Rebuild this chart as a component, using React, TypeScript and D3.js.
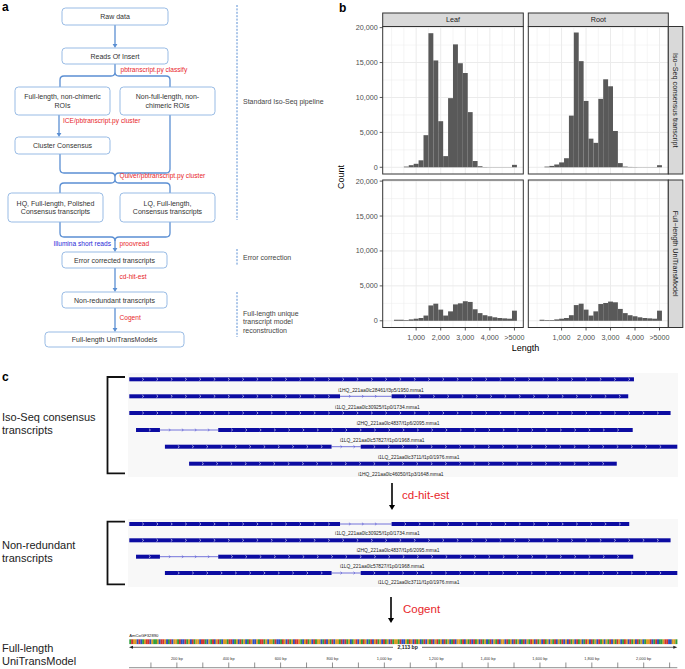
import React from "react";
import * as d3 from "d3";

const FONT = "'Liberation Sans', Arial, Helvetica, sans-serif";

// ---------------- Panel b data ----------------
const binCenters = [200, 400, 600, 800, 1000, 1200, 1400, 1600, 1800, 2000, 2200, 2400, 2600, 2800, 3000, 3200, 3400, 3600, 3800, 4000, 4200, 4400, 4600, 4800, 5000];
const tissues = ["Leaf", "Root"];
const rowTypes = ["Iso\u2212Seq consensus transcript", "Full\u2212length UniTransModel"];
const leafIso = [0, 0, 100, 300, 500, 1000, 4600, 19200, 15300, 6600, 1600, 9900, 17600, 14900, 13500, 7900, 900, 150, 40, 30, 30, 30, 30, 30, 350];
const rootIso = [0, 100, 200, 400, 700, 1300, 7400, 19300, 15200, 9500, 4100, 3500, 9800, 12600, 11600, 5200, 600, 100, 50, 40, 30, 30, 30, 30, 300];
const leafUni = [150, 150, 100, 200, 300, 400, 750, 2200, 2450, 1600, 750, 1350, 2350, 2500, 2800, 2700, 1650, 1100, 800, 650, 500, 400, 350, 300, 1450];
const rootUni = [150, 100, 100, 200, 300, 400, 800, 2250, 2450, 1600, 750, 1350, 2400, 2550, 2750, 2650, 1700, 1100, 800, 650, 500, 400, 350, 300, 1450];
const xTickValues = [1000, 2000, 3000, 4000, 5000];
const xTickLabels = ["1,000", "2,000", "3,000", "4,000", ">5000"];
const xMinorValues = [0, 500, 1500, 2500, 3500, 4500];
const yTickValues = [0, 5000, 10000, 15000, 20000];
const yTickLabels = ["0", "5,000", "10,000", "15,000", "20,000"];
const yMinorValues = [2500, 7500, 12500, 17500];
const BIN_WIDTH = 200;

// ---------------- Panel a data ----------------
const flowBoxes = [
  { x: 62, y: 8, w: 106, h: 17, lines: ["Raw data"] },
  { x: 62, y: 48, w: 106, h: 16, lines: ["Reads Of Insert"] },
  { x: 15, y: 87, w: 95, h: 28, lines: ["Full-length, non-chimeric", "ROIs"] },
  { x: 120, y: 87, w: 95, h: 28, lines: ["Non-full-length, non-", "chimeric ROIs"] },
  { x: 15, y: 137, w: 95, h: 17, lines: ["Cluster Consensus"] },
  { x: 8, y: 193, w: 95, h: 29, lines: ["HQ, Full-length, Polished", "Consensus transcripts"] },
  { x: 120, y: 193, w: 95, h: 29, lines: ["LQ, Full-length,", "Consensus transcripts"] },
  { x: 62, y: 252, w: 105, h: 16, lines: ["Error corrected transcripts"] },
  { x: 62, y: 292, w: 105, h: 16, lines: ["Non-redundant transcripts"] },
  { x: 45, y: 332, w: 139, h: 15, lines: ["Full-length UniTransModels"] },
];
const flowTools = [
  { x: 120.5, y: 69.5, text: "pbtranscript.py classify", color: "#e8262b", anchor: "start" },
  { x: 63, y: 121, text: "ICE/pbtranscript.py cluster", color: "#e8262b", anchor: "start" },
  { x: 119.5, y: 175.5, text: "Quiver/pbtranscript.py cluster", color: "#e8262b", anchor: "start" },
  { x: 111, y: 244, text: "Illumina short reads", color: "#2a2ad8", anchor: "end" },
  { x: 119.5, y: 244, text: "proovread", color: "#e8262b", anchor: "start" },
  { x: 119.5, y: 277, text: "cd-hit-est", color: "#e8262b", anchor: "start" },
  { x: 119.5, y: 318, text: "Cogent", color: "#e8262b", anchor: "start" },
];
const stages = [
  { y0: 5, y1: 220, lines: ["Standard Iso-Seq pipeline"], ty: 101 },
  { y0: 249, y1: 265, lines: ["Error correction"], ty: 257 },
  { y0: 292, y1: 337, lines: ["Full-length unique", "transcript model", "reconstruction"], ty: 313 },
];

// ---------------- Panel c data ----------------
const isoSeqTranscripts = [
  { exons: [[0, 2026]], label: "i1HQ_221aa0lc28461/f3p5/1950.mma1", labelAt: 839 },
  { exons: [[0, 846], [1053, 2003]], label: "i1LQ_221aa0lc30925/f1p0/1734.mma1", labelAt: 826 },
  { exons: [[0, 2173]], label: "i2HQ_221aa0lc4837/f1p6/2095.mma1", labelAt: 913 },
  { exons: [[27, 123], [357, 2021]], label: "i1LQ_221aa0lc57827/f1p0/1968.mma1", labelAt: 846 },
  { exons: [[143, 812], [929, 2200]], label: "i1LQ_221aa0lc3711/f1p0/1976.mma1", labelAt: 998 },
  { exons: [[240, 1957]], label: "i1HQ_221aa0lc46050/f1p3/1648.mma1", labelAt: 919 },
];
const nonRedundantTranscripts = [
  { exons: [[0, 846], [1053, 2007]], label: "i1LQ_221aa0lc30925/f1p0/1734.mma1", labelAt: 826 },
  { exons: [[0, 2173]], label: "i2HQ_221aa0lc4837/f1p6/2095.mma1", labelAt: 913 },
  { exons: [[27, 123], [357, 2023]], label: "i1LQ_221aa0lc57827/f1p0/1968.mma1", labelAt: 846 },
  { exons: [[143, 812], [929, 2200]], label: "i1LQ_221aa0lc3711/f1p0/1976.mma1", labelAt: 998 },
];
const modelName = "AmCoGF32890";
const modelLength = 2113;
const rulerTicks = [100, 200, 300, 400, 500, 600, 700, 800, 900, 1000, 1100, 1200, 1300, 1400, 1500, 1600, 1700, 1800, 1900, 2000, 2100];
const rulerLabels = [200, 400, 600, 800, 1000, 1200, 1400, 1600, 1800, 2000];
const modelSequence =
  "ATGGCTCAGTTCGAAGCTTGCATCGGATCCTAGCTAGGCTTACGATCGTACGGATTCAGCTAGCATGCCGATTAGCGGATCCATGCTAGCTTGACGTAGCTAGGCATCGATCGGATCTAGCAGTCGATGCATCGTAGCTAGCTAGGATCCGATGCTAGCATCGATCGTAGCTAGCATCGGATCGATCTAGCTAGCATCGATCGGCTAGCTAGCATCGATGCTAGCTAGCGATCGATCGCTAGCTAGCATGCTAGCTAGCGATCGATGCATGCTAGCTAGCAGGTCATCAAGTTCCGGA";
const baseColors: Record<string, string> = { A: "#2f9e3c", C: "#2c4fc2", G: "#d99a22", T: "#d2322f" };

const FLOW_BLUE = "#5b8fd3";
const BOX_BLUE = "#8db3e2";

function Arrow({ x, y0, y1, color, width = 1.3, head = 3 }: any) {
  return (
    <g>
      <line x1={x} y1={y0} x2={x} y2={y1 - head} stroke={color} strokeWidth={width} />
      <path d={`M${x - head * 0.8},${y1 - head * 1.3}L${x},${y1}L${x + head * 0.8},${y1 - head * 1.3}Z`} fill={color} />
    </g>
  );
}

function PanelA() {
  const braces = [
    "M60,87V80Q60,76 64,76H111Q115,76 115,72V64M115,72Q115,76 119,76H166Q170,76 170,80V87",
    "M60,154V169Q60,173 64,173H111Q115,173 115,177M170,115V169Q170,173 166,173H119Q115,173 115,177",
    "M115,177V179Q115,183 111,183H64Q60,183 60,187V193M115,179Q115,183 119,183H166Q170,183 170,187V193",
    "M60,222V233Q60,237 64,237H111Q115,237 115,241M170,222V233Q170,237 166,237H119Q115,237 115,241",
  ];
  return (
    <g>
      <text x={2} y={11} fontSize={12} fontWeight="bold" fill="#000">a</text>
      {braces.map((d, i) => (
        <path key={i} d={d} fill="none" stroke={FLOW_BLUE} strokeWidth={1.3} />
      ))}
      <Arrow x={115} y0={25} y1={48} color={FLOW_BLUE} />
      <Arrow x={59} y0={115} y1={137} color={FLOW_BLUE} />
      <Arrow x={115} y0={240} y1={252} color={FLOW_BLUE} />
      <Arrow x={115} y0={268} y1={292} color={FLOW_BLUE} />
      <Arrow x={115} y0={308} y1={332} color={FLOW_BLUE} />
      {flowBoxes.map((b, i) => (
        <g key={i}>
          <rect x={b.x} y={b.y} width={b.w} height={b.h} rx={3.5} fill="#fff" stroke={BOX_BLUE} strokeWidth={0.9} />
          {b.lines.map((t, j) => (
            <text
              key={j}
              x={b.x + b.w / 2}
              y={b.y + b.h / 2 + 2.5 + (j - (b.lines.length - 1) / 2) * 8.5}
              fontSize={7}
              textAnchor="middle"
              fill="#333"
            >
              {t}
            </text>
          ))}
        </g>
      ))}
      {flowTools.map((t, i) => (
        <text key={i} x={t.x} y={t.y + 2.4} fontSize={6.6} fill={t.color} textAnchor={t.anchor}>
          {t.text}
        </text>
      ))}
      {stages.map((s, i) => (
        <g key={i}>
          <line x1={237} x2={237} y1={s.y0} y2={s.y1} stroke={FLOW_BLUE} strokeWidth={1} strokeDasharray="2,1.4" />
          {s.lines.map((t, j) => (
            <text key={j} x={243} y={s.ty + 2.5 + j * 8.6} fontSize={7} fill="#444">
              {t}
            </text>
          ))}
        </g>
      ))}
    </g>
  );
}

const COLS: [number, number][] = [
  [382.7, 523.3],
  [528.3, 668.3],
];
const ROWS: [number, number][] = [
  [26.5, 174],
  [180, 327.5],
];
const X_DOMAIN = [-360, 5360];
const Y_DOMAIN = [-960, 20160];

function PanelB() {
  const series = [
    [leafIso, rootIso],
    [leafUni, rootUni],
  ];
  const grid = "#ebebeb";
  const border = "#333333";
  return (
    <g>
      <text x={339} y={12} fontSize={12} fontWeight="bold" fill="#000">b</text>
      {ROWS.map((ry, ri) =>
        COLS.map((cx, ci) => {
          const x = d3.scaleLinear().domain(X_DOMAIN).range(cx);
          const y = d3.scaleLinear().domain(Y_DOMAIN).range([ry[1], ry[0]]);
          const vals = series[ri][ci];
          return (
            <g key={`${ri}-${ci}`}>
              <rect x={cx[0]} y={ry[0]} width={cx[1] - cx[0]} height={ry[1] - ry[0]} fill="#fff" />
              {xMinorValues.map((v) => (
                <line key={"xm" + v} x1={x(v)} x2={x(v)} y1={ry[0]} y2={ry[1]} stroke={grid} strokeWidth={0.5} />
              ))}
              {yMinorValues.map((v) => (
                <line key={"ym" + v} x1={cx[0]} x2={cx[1]} y1={y(v)} y2={y(v)} stroke={grid} strokeWidth={0.5} />
              ))}
              {xTickValues.map((v) => (
                <line key={"xM" + v} x1={x(v)} x2={x(v)} y1={ry[0]} y2={ry[1]} stroke={grid} strokeWidth={1} />
              ))}
              {yTickValues.map((v) => (
                <line key={"yM" + v} x1={cx[0]} x2={cx[1]} y1={y(v)} y2={y(v)} stroke={grid} strokeWidth={1} />
              ))}
              {binCenters.map((c, i) =>
                vals[i] > 0 ? (
                  <rect
                    key={c}
                    x={x(c - BIN_WIDTH / 2)}
                    y={y(vals[i])}
                    width={x(c + BIN_WIDTH / 2) - x(c - BIN_WIDTH / 2)}
                    height={y(0) - y(vals[i])}
                    fill="#595959"
                  />
                ) : null
              )}
              <rect x={cx[0]} y={ry[0]} width={cx[1] - cx[0]} height={ry[1] - ry[0]} fill="none" stroke={border} strokeWidth={1} />
              {ci === 0 &&
                yTickValues.map((v, k) => (
                  <g key={"yt" + v}>
                    <line x1={cx[0] - 3} x2={cx[0]} y1={y(v)} y2={y(v)} stroke={border} strokeWidth={0.8} />
                    <text x={cx[0] - 5} y={y(v) + 2.5} fontSize={7.2} textAnchor="end" fill="#4d4d4d">
                      {yTickLabels[k]}
                    </text>
                  </g>
                ))}
              {ri === 1 &&
                xTickValues.map((v, k) => (
                  <g key={"xt" + v}>
                    <line x1={x(v)} x2={x(v)} y1={ry[1]} y2={ry[1] + 3} stroke={border} strokeWidth={0.8} />
                    <text x={x(v)} y={ry[1] + 12} fontSize={7.2} textAnchor="middle" fill="#4d4d4d">
                      {xTickLabels[k]}
                    </text>
                  </g>
                ))}
            </g>
          );
        })
      )}
      {COLS.map((cx, ci) => (
        <g key={"strip" + ci}>
          <rect x={cx[0]} y={13} width={cx[1] - cx[0]} height={ROWS[0][0] - 13} fill="#d9d9d9" stroke={border} strokeWidth={1} />
          <text x={(cx[0] + cx[1]) / 2} y={22.3} fontSize={7.2} textAnchor="middle" fill="#1a1a1a">
            {tissues[ci]}
          </text>
        </g>
      ))}
      {ROWS.map((ry, ri) => (
        <g key={"rstrip" + ri}>
          <rect x={COLS[1][1]} y={ry[0]} width={14.5} height={ry[1] - ry[0]} fill="#d9d9d9" stroke={border} strokeWidth={1} />
          <text
            transform={`translate(${COLS[1][1] + 4.8},${(ry[0] + ry[1]) / 2}) rotate(90)`}
            fontSize={7.2}
            textAnchor="middle"
            fill="#1a1a1a"
          >
            {rowTypes[ri]}
          </text>
        </g>
      ))}
      <text transform={`translate(344,${(ROWS[0][0] + ROWS[1][1]) / 2}) rotate(-90)`} fontSize={9} textAnchor="middle" fill="#000">
        Count
      </text>
      <text x={(COLS[0][0] + COLS[1][1]) / 2} y={351} fontSize={9} textAnchor="middle" fill="#000">
        Length
      </text>
    </g>
  );
}

const TRACK_X: [number, number] = [129.3, 677.3];
const trackScale = d3.scaleLinear().domain([0, 2200]).range(TRACK_X);
const EXON_BLUE = "#0c0ca2";
const INTRON_BLUE = "#5050d2";

function Transcript({ t, y, labelY }: any) {
  const exons = t.exons.map((e: number[]) => [trackScale(e[0]), trackScale(e[1])]);
  const introns: number[][] = [];
  for (let i = 0; i < exons.length - 1; i++) introns.push([exons[i][1], exons[i + 1][0]]);
  const chevrons: React.ReactNode[] = [];
  exons.forEach((e: number[], i: number) => {
    for (let cx = e[0] + 14; cx < e[1] - 3; cx += 14.3) {
      chevrons.push(
        <path key={`e${i}-${cx}`} d={`M${cx - 1.1},${y - 1.3}L${cx + 0.4},${y}L${cx - 1.1},${y + 1.3}`} fill="none" stroke="#fff" strokeWidth={0.6} />
      );
    }
  });
  introns.forEach((e, i) => {
    for (let cx = e[0] + 10; cx < e[1] - 3; cx += 13) {
      chevrons.push(
        <path key={`i${i}-${cx}`} d={`M${cx - 1.1},${y - 1.3}L${cx + 0.4},${y}L${cx - 1.1},${y + 1.3}`} fill="none" stroke={INTRON_BLUE} strokeWidth={0.6} />
      );
    }
  });
  return (
    <g>
      {introns.map((e, i) => (
        <line key={"in" + i} x1={e[0]} x2={e[1]} y1={y} y2={y} stroke={INTRON_BLUE} strokeWidth={0.8} />
      ))}
      {exons.map((e: number[], i: number) => (
        <rect key={"ex" + i} x={e[0]} y={y - 2} width={e[1] - e[0]} height={4} fill={EXON_BLUE} />
      ))}
      {chevrons}
      <text x={trackScale(t.labelAt)} y={labelY + 1.7} fontSize={4.9} fill="#222">
        {t.label}
      </text>
    </g>
  );
}

function PanelC() {
  const set1Y = [379.3, 396.3, 413, 430, 446.7, 463.7];
  const set2Y = [524, 540.3, 556.7, 573];
  const ruler = d3.scaleLinear().domain([0, modelLength]).range([125, 673]);
  const seqW = (TRACK_X[1] - TRACK_X[0]) / modelSequence.length;
  return (
    <g>
      <text x={2} y={381} fontSize={12} fontWeight="bold" fill="#000">c</text>
      <text x={2} y={421} fontSize={11} fill="#222">Iso-Seq consensus</text>
      <text x={2} y={434} fontSize={11} fill="#222">transcripts</text>
      <text x={2} y={549} fontSize={11} fill="#222">Non-redundant</text>
      <text x={2} y={562} fontSize={11} fill="#222">transcripts</text>
      <text x={2} y={652} fontSize={11} fill="#222">Full-length</text>
      <text x={2} y={664.5} fontSize={11} fill="#222">UniTransModel</text>

      <rect x={128} y={373} width={550} height={104} fill="#f8f8f8" />
      <rect x={128} y={519} width={550} height={68} fill="#f8f8f8" />
      <path d="M125,377H107.5V473.3H125" fill="none" stroke="#111" strokeWidth={1.8} />
      <path d="M125,521.7H107.5V584.3H125" fill="none" stroke="#111" strokeWidth={1.8} />

      {isoSeqTranscripts.map((t, i) => (
        <Transcript key={"a" + i} t={t} y={set1Y[i]} labelY={set1Y[i] + 10.5} />
      ))}
      {nonRedundantTranscripts.map((t, i) => (
        <Transcript key={"b" + i} t={t} y={set2Y[i]} labelY={set2Y[i] + 9.5} />
      ))}

      <Arrow x={392} y0={483} y1={510} color="#000" width={1.6} head={3.8} />
      <text x={402} y={499} fontSize={11.5} fill="#e8262b">cd-hit-est</text>
      <Arrow x={391} y0={597} y1={623} color="#000" width={1.6} head={3.8} />
      <text x={403} y={613} fontSize={11.5} fill="#e8262b">Cogent</text>

      <text x={129.3} y={636.5} fontSize={4.2} fill="#111">{modelName}</text>
      {modelSequence.split("").map((b, i) => (
        <rect key={i} x={TRACK_X[0] + i * seqW} y={639.3} width={seqW + 0.1} height={4.8} fill={baseColors[b]} />
      ))}
      <line x1={131} x2={393} y1={647.3} y2={647.3} stroke="#222" strokeWidth={0.7} />
      <line x1={422} x2={674} y1={647.3} y2={647.3} stroke="#222" strokeWidth={0.7} />
      <path d="M129,647.3L133,645.8L133,648.8Z" fill="#222" />
      <path d="M677.3,647.3L673.3,645.8L673.3,648.8Z" fill="#222" />
      <text x={407.7} y={649.2} fontSize={5.2} fontWeight="bold" textAnchor="middle" fill="#222">
        {d3.format(",")(modelLength)} bp
      </text>

      <line x1={129} x2={677.3} y1={667.7} y2={667.7} stroke="#444" strokeWidth={0.6} />
      {rulerTicks.map((v) => (
        <line key={v} x1={ruler(v)} x2={ruler(v)} y1={662.5} y2={667.7} stroke="#444" strokeWidth={0.6} />
      ))}
      {rulerLabels.map((v) => (
        <text key={v} x={ruler(v)} y={660.3} fontSize={3.9} textAnchor="middle" fill="#333">
          {d3.format(",")(v)} bp
        </text>
      ))}
    </g>
  );
}

export default function App() {
  return (
    <svg width={685} height={669} style={{ position: "absolute", left: 0, top: 0, background: "#fff" }} fontFamily={FONT}>
      <rect width={685} height={669} fill="#fff" />
      <PanelA />
      <PanelB />
      <PanelC />
    </svg>
  );
}
